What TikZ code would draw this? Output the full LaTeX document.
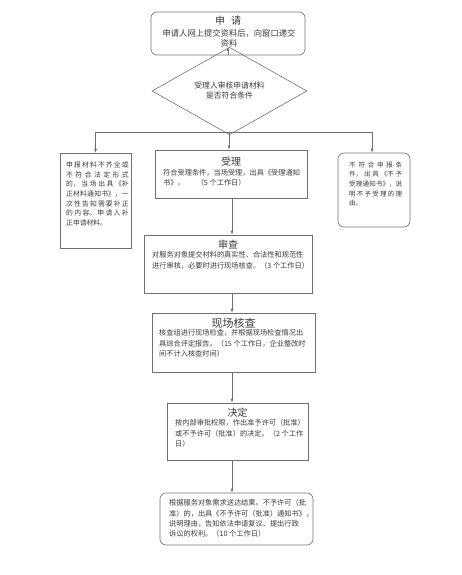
\documentclass[tikz,border=0pt]{standalone}
\usepackage{fontspec}
\newfontfamily\cjk{Noto Sans CJK SC}
\usetikzlibrary{arrows.meta,shapes.geometric}
\XeTeXlinebreaklocale "zh"
\XeTeXlinebreakskip=0pt plus 1pt
\definecolor{linegray}{HTML}{707070}
\definecolor{inkgray}{HTML}{3A3A3A}

\tikzset{
  box/.style={draw=linegray,line width=0.6pt,inner sep=0pt},
  roundbox/.style={box,rounded corners=6pt},
  decision/.style={draw=linegray,line width=0.6pt,diamond,inner sep=0pt,align=center,
    font=\cjk\fontsize{7.8}{10}\selectfont,text=inkgray},
  head/.style={font=\cjk\fontsize{10}{12}\selectfont,text=inkgray,inner sep=0pt},
  body/.style={font=\cjk\fontsize{7.2}{10.2}\selectfont,text=inkgray,inner sep=0pt,
    align=left,anchor=north west},
  narrow/.style={body,align=justify},
  arr/.style={-{Latex[length=4pt,width=3pt]},draw=linegray,line width=0.6pt},
  conn/.style={draw=linegray,line width=0.6pt}
}

\begin{document}
\begin{tikzpicture}[x=1pt,y=-1pt]
  \useasboundingbox (0,0) rectangle (461,575);
  % boxes
  \node[roundbox,minimum width=154pt,minimum height=43pt] (shenqing) at (228,33.5) {};
  \node[decision,minimum width=155pt,minimum height=52pt] (shenhe) at (229.5,91)
    {受理人审核申请材料\\是否符合条件};
  \node[box,minimum width=71pt,minimum height=95pt] (buzheng) at (95.5,200.5) {};
  \node[box,minimum width=152pt,minimum height=48pt] (shouli) at (231,174) {};
  \node[roundbox,minimum width=72pt,minimum height=74pt] (buyu) at (374,190) {};
  \node[box,minimum width=168pt,minimum height=58pt] (shencha) at (228,264) {};
  \node[box,minimum width=163pt,minimum height=59pt] (xianchang) at (233.5,342.5) {};
  \node[box,minimum width=141pt,minimum height=57pt] (jueding) at (237.5,431.5) {};
  \node[roundbox,minimum width=153pt,minimum height=52pt] (songda) at (236.5,519) {};

  % texts
  \node[head] (shenqing-h) at (228,21) {申\hspace{6pt}请};
  \node[body,anchor=north,align=center,font=\cjk\fontsize{8.3}{10}\selectfont] (shenqing-t)
    at (229,29) {申请人网上提交资料后，向窗口递交\\资料};
  \node[narrow,text width=62.5pt,font=\cjk\fontsize{6.8}{9.7}\selectfont] (buzheng-t) at (66,161.5)
    {申报材料不齐全或\linebreak 不符合法定形式\linebreak 的，当场出具《补\linebreak
     正材料通知书》，一\linebreak 次性告知需要补正\linebreak 的内容。申请人补\linebreak 正申请材料。};
  \node[head] (shouli-h) at (231,162) {受理};
  \node[body] (shouli-t) at (163,169.5)
    {符合受理条件，当场受理，出具《受理通知\\书》。\hspace{12pt}（5 个工作日）};
  \node[narrow,text width=53pt,font=\cjk\fontsize{6.5}{9.7}\selectfont] (buyu-t) at (349,161.5)
    {不符合申报条\linebreak 件，出具《不予\linebreak 受理通知书》，说\linebreak 明不予受理的理\linebreak 由。};
  \node[head] (shencha-h) at (228,245) {审查};
  \node[body] (shencha-t) at (152,251.5)
    {对服务对象提交材料的真实性、合法性和规范性\\进行审核，必要时进行现场核查。（3 个工作日）};
  \node[head,font=\cjk\fontsize{11}{12}\selectfont] (xianchang-h) at (233.5,323) {现场核查};
  \node[body] (xianchang-t) at (159,329.5)
    {核查组进行现场检查，并根据现场检查情况出\\具综合评定报告。（15 个工作日，企业整改时\\间不计入核查时间）};
  \node[head] (jueding-h) at (237.5,413) {决定};
  \node[body] (jueding-t) at (175,419.5)
    {按内部审批权限，作出准予许可（批准）\\或不予许可（批准）的决定。（2 个工作\\日）};
  \node[body] (songda-t) at (169,499.5)
    {根据服务对象需求送达结果。不予许可（批\\准）的，出具《不予许可（批准）通知书》，\\说明理由，告知依法申请复议、提出行政\\诉讼的权利。（10 个工作日）};

  % connectors
  \coordinate (branch) at (229,132);
  \coordinate (spine) at (232,0);
  \draw[arr] (shenqing.south) -- (shenqing.south |- shenhe.north);
  \draw[conn] (shenhe.south) -- (branch);
  \draw[arr] (branch) -| (buzheng.north);
  \draw[arr] (branch) -| ([xshift=-2pt]buyu.north);
  \draw[arr] (branch) -- (branch |- shouli.north);
  \draw[arr] (shouli.south -| spine) -- (shencha.north -| spine);
  \draw[arr] (shencha.south -| spine) -- (xianchang.north -| spine);
  \draw[arr] (xianchang.south -| spine) -- (jueding.north -| spine);
  \draw[arr] (jueding.south -| spine) -- (songda.north -| spine);
\end{tikzpicture}
\end{document}
